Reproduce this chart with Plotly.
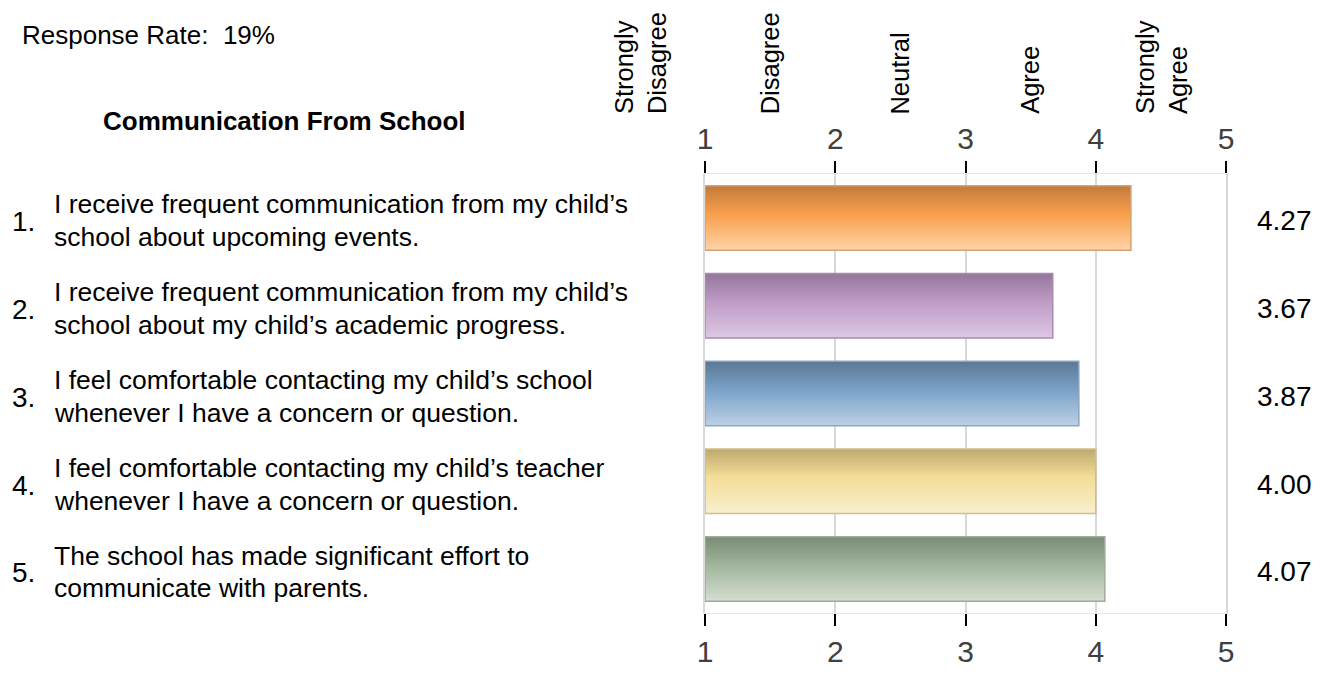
import plotly.graph_objects as go

# ---------------- data ----------------
title = "Communication From School"
response_rate = "Response Rate:  19%"
question_numbers = ["1.", "2.", "3.", "4.", "5."]
questions_line1 = [
    "I receive frequent communication from my child\u2019s",
    "I receive frequent communication from my child\u2019s",
    "I feel comfortable contacting my child\u2019s school",
    "I feel comfortable contacting my child\u2019s teacher",
    "The school has made significant effort to",
]
questions_line2 = [
    "school about upcoming events.",
    "school about my child\u2019s academic progress.",
    "whenever I have a concern or question.",
    "whenever I have a concern or question.",
    "communicate with parents.",
]
scores = [4.27, 3.67, 3.87, 4.00, 4.07]
scale_labels = ["Strongly<br>Disagree", "Disagree", "Neutral", "Agree", "Strongly<br>Agree"]
scale_ticks = [1, 2, 3, 4, 5]

# ---------------- styles ----------------
grad_top = ["#C27A3C", "#94779A", "#5B7896", "#BFA96F", "#798C75"]
grad_mid = ["#F9A04C", "#C09CC8", "#7BA2C8", "#F4DE99", "#A1B69C"]
grad_bot = ["#FDD3A8", "#DDC8E3", "#BCD0E5", "#F9EFCF", "#D4DED1"]
borders = ["#D4A27A", "#A88CAD", "#8EA5BE", "#D0BE8A", "#9DAD99"]

FONT = "Liberation Sans, Arial, sans-serif"
OFF = 8                      # page body margin of the html page
W, H = 1325 - OFF, 680 - OFF
X1_PX, X5_PX, TOP_PX, BOT_PX = 705, 1226, 174, 630
L = X1_PX - OFF
R = W - (X5_PX - OFF)
T = TOP_PX - OFF
B = H - (BOT_PX - OFF)
BAR_W = 0.735
N_SLICES = 40
MID_POS = 0.45


def hex2rgb(h):
    h = h.lstrip("#")
    return tuple(int(h[i:i + 2], 16) for i in (0, 2, 4))


def mix(c1, c2, t):
    a, b = hex2rgb(c1), hex2rgb(c2)
    return "rgb(%d,%d,%d)" % tuple(round(a[i] + (b[i] - a[i]) * t) for i in range(3))


def grad_color(i, t):
    if t <= MID_POS:
        return mix(grad_top[i], grad_mid[i], t / MID_POS)
    return mix(grad_mid[i], grad_bot[i], (t - MID_POS) / (1 - MID_POS))


idx = list(range(len(scores)))
lengths = [s - 1 for s in scores]

fig = go.Figure()

step = BAR_W / N_SLICES
for k in range(N_SLICES):
    t = (k + 0.5) / N_SLICES
    start = -BAR_W / 2 + k * step
    w = step * 1.6
    if start + w > BAR_W / 2:
        start = BAR_W / 2 - w
    fig.add_trace(go.Bar(
        y=idx, x=lengths, base=1, orientation="h",
        width=w, offset=start,
        marker=dict(color=[grad_color(i, t) for i in idx], line=dict(width=0)),
        hoverinfo="skip", showlegend=False,
    ))

# outline of each bar
fig.add_trace(go.Bar(
    y=idx, x=lengths, base=1, orientation="h", width=BAR_W,
    marker=dict(color="rgba(0,0,0,0)", line=dict(color=borders, width=1.5)),
    customdata=scores, hovertemplate="%{customdata:.2f}<extra></extra>",
    showlegend=False,
))

# invisible trace so that the top axis is drawn
fig.add_trace(go.Scatter(x=scale_ticks, y=[idx[0]] * len(scale_ticks), xaxis="x2", yaxis="y",
                         mode="markers", marker=dict(opacity=0), hoverinfo="skip",
                         showlegend=False))

axis_common = dict(
    range=[1, 5], tickvals=scale_ticks, ticktext=[str(v) for v in scale_ticks],
    ticks="outside", ticklen=12, tickwidth=2, tickcolor="#000000",
    tickfont=dict(family=FONT, size=30, color="#404040"),
    showgrid=True, gridcolor="#D9D9D9", gridwidth=2,
    showline=True, linecolor="#E8E8E8", linewidth=1,
    zeroline=False, fixedrange=True,
)

fig.update_layout(
    width=W, height=H,
    margin=dict(l=L, r=R, t=T, b=B),
    paper_bgcolor="white", plot_bgcolor="white",
    barmode="overlay",
    xaxis=dict(side="bottom", **axis_common),
    xaxis2=dict(side="top", overlaying="x", anchor="y", **axis_common),
    yaxis=dict(range=[4.5, -0.5], showticklabels=False, showgrid=False,
               zeroline=False, showline=True, mirror=True, linecolor="#D9D9D9",
               linewidth=2, ticks="", fixedrange=True),
    font=dict(family=FONT, color="#000000"),
)

plot_w = W - L - R
plot_h = H - T - B


def px_x(p):
    return (p - OFF - L) / plot_w


def px_y(p):
    return (H - B - (p - OFF)) / plot_h


ann = []
ann.append(dict(text=response_rate, x=px_x(20), y=px_y(30), xref="paper", yref="paper",
                xanchor="left", yanchor="middle", showarrow=False,
                font=dict(size=26, family=FONT)))
ann.append(dict(text="<b>" + title + "</b>", x=px_x(284), y=px_y(119), xref="paper", yref="paper",
                xanchor="center", yanchor="middle", showarrow=False,
                font=dict(size=26, family=FONT)))

unit_px = plot_h / 5
for i in idx:
    ann.append(dict(text=question_numbers[i], x=px_x(10), y=i + 4 / unit_px, xref="paper", yref="y",
                    xanchor="left", yanchor="middle", showarrow=False,
                    font=dict(size=28, family=FONT)))
    ann.append(dict(text=questions_line1[i], x=px_x(52), y=i - 14 / unit_px, xref="paper", yref="y",
                    xanchor="left", yanchor="middle", showarrow=False,
                    font=dict(size=26.5, family=FONT)))
    ann.append(dict(text=questions_line2[i], x=px_x(52), y=i + 20 / unit_px, xref="paper", yref="y",
                    xanchor="left", yanchor="middle", showarrow=False,
                    font=dict(size=26.5, family=FONT)))
    ann.append(dict(text="%.2f" % scores[i], x=px_x(1284), y=i + 3 / unit_px, xref="paper", yref="y",
                    xanchor="center", yanchor="middle", showarrow=False,
                    font=dict(size=28, family=FONT)))

for j, lab in enumerate(scale_labels):
    xp = X1_PX + (scale_ticks[j] - 0.5 - 1) * (X5_PX - X1_PX) / 4
    ann.append(dict(text=lab, x=px_x(xp), y=px_y(114), xref="paper", yref="paper",
                    xanchor="center", yanchor="bottom", textangle=-90, showarrow=False,
                    align="left", font=dict(size=25.5, family=FONT)))

fig.update_layout(annotations=ann)
fig.write_html("out.html")
